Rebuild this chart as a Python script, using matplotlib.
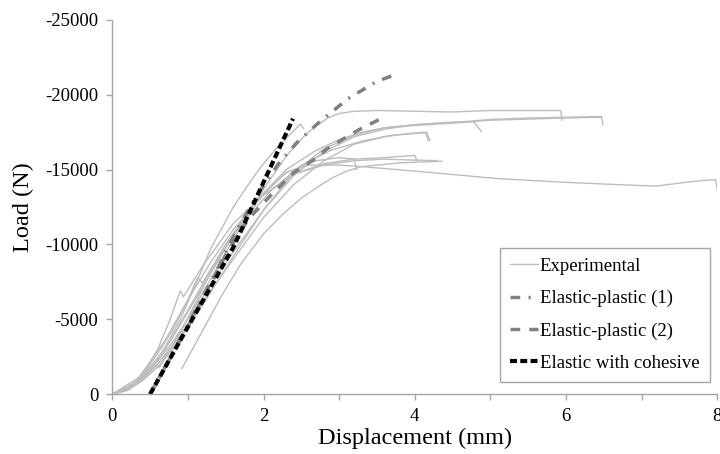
import matplotlib.pyplot as plt

plt.rcParams["font.family"] = ["Liberation Serif", "DejaVu Serif"]
plt.rcParams["lines.scale_dashes"] = False

# -----------------------------
# Experimental curves (x in mm, load in N)
# -----------------------------
exp1_x = [0, 0.15, 0.3, 0.45, 0.6, 0.75, 0.9, 1.1, 1.3, 1.6, 1.8, 1.96, 2.15, 2.31, 2.42, 2.49, 2.53]
exp1_y = [0, -200, -600, -1300, -2300, -3600, -5000, -7300, -9700, -12500, -14000, -15150,
          -16300, -17150, -17700, -18050, -17750]

exp2_x = [0, 0.2, 0.4, 0.6, 0.8, 1.2, 1.6, 2.0, 2.3, 2.55, 2.7, 2.85, 3.0, 3.2, 3.5, 4.0,
          4.5, 5.0, 5.5, 5.93, 5.95]
exp2_y = [0, -300, -1000, -2000, -3300, -6800, -10300, -13700, -15900, -17300, -17950, -18450,
          -18750, -18900, -18950, -18900, -18850, -18950, -18950, -18950, -18300]

exp3_x = [0, 0.2, 0.4, 0.6, 0.8, 1.2, 1.6, 2.0, 2.4, 2.8, 3.2, 3.6, 4.0, 4.5, 5.0, 5.5,
          6.0, 6.47, 6.49]
exp3_y = [0, -250, -900, -1800, -3000, -6000, -9200, -12300, -14800, -16400, -17300, -17800,
          -18000, -18150, -18350, -18450, -18500, -18550, -18000]

exp4_x = [0, 0.2, 0.4, 0.6, 0.8, 1.2, 1.6, 2.0, 2.4, 2.8, 3.2, 3.6, 4.0, 4.4, 4.78, 4.88]
exp4_y = [0, -300, -1100, -2200, -3500, -6500, -9500, -12300, -14600, -16200, -17200, -17700,
          -18000, -18150, -18200, -17550]

exp5_x = [0, 0.2, 0.4, 0.6, 0.8, 1.2, 1.6, 2.0, 2.4, 2.8, 3.2, 3.6, 3.9, 4.14, 4.18]
exp5_y = [0, -250, -1000, -2000, -3200, -6200, -9000, -11800, -14000, -15600, -16700,
          -17200, -17400, -17500, -16950]

exp6_x = [0, 0.15, 0.3, 0.45, 0.6, 0.75, 0.9, 0.94, 1.2, 1.6, 2.0, 2.4, 2.8, 3.2, 3.6,
          4.0, 4.03]
exp6_y = [0, -250, -800, -1700, -3000, -4800, -6900, -6500, -8600, -11400, -13300, -14700,
          -15400, -15700, -15800, -15950, -15600]

exp7_x = [0.92, 1.2, 1.45, 1.7, 2.0, 2.25, 2.5, 2.75, 2.93, 3.1, 3.3, 3.8, 4.36]
exp7_y = [-1700, -4300, -6600, -8700, -10700, -12000, -13100, -13950, -14500, -14900,
          -15200, -15450, -15560]

exp8_x = [0, 0.2, 0.4, 0.6, 0.8, 1.2, 1.6, 2.0, 2.3, 2.6, 3.0, 3.3, 4.0, 5.1, 6.0, 6.9,
          7.2, 7.5, 7.8, 7.98, 8.0]
exp8_y = [0, -350, -1200, -2400, -3800, -7200, -10600, -13400, -14800, -15300, -15300,
          -15200, -14900, -14400, -14150, -13950, -13900, -14100, -14270, -14330, -13700]

exp9_x = [0, 0.2, 0.4, 0.6, 0.8, 1.0, 1.13, 1.19, 1.5, 1.9, 2.3, 2.7, 3.0, 3.2, 3.23]
exp9_y = [0, -350, -1300, -2700, -4300, -6300, -7800, -7400, -10000, -12900, -14800,
          -15600, -15800, -15700, -15000]

exp10_x = [0, 0.3, 0.6, 0.62, 0.9, 1.2, 1.5, 1.9, 2.3, 2.7, 3.0, 3.3, 3.6, 4.0, 4.5, 5.0,
           6.0, 6.47]
exp10_y = [0, -700, -1950, -1750, -4100, -7100, -10000, -12900, -15000, -16300, -17000,
           -17500, -17800, -17950, -18100, -18300, -18450, -18500]

exp11_x = [0, 0.35, 0.7, 1.0, 1.3, 1.6, 2.0, 2.4, 2.8, 3.2, 3.6, 3.9, 4.3]
exp11_y = [0, -1100, -3600, -6300, -8800, -11000, -13300, -14700, -15300, -15600, -15700,
           -15650, -15600]

exp12_x = [0, 0.35, 0.7, 1.0, 1.3, 1.7, 2.1, 2.5, 2.9, 3.3, 3.7, 4.1, 4.16, 4.2]
exp12_y = [0, -900, -3000, -5600, -8300, -11300, -13600, -15300, -16300, -16900, -17300,
           -17450, -17480, -16950]

experimental = [
    (exp1_x, exp1_y), (exp2_x, exp2_y), (exp3_x, exp3_y), (exp4_x, exp4_y),
    (exp5_x, exp5_y), (exp6_x, exp6_y), (exp7_x, exp7_y), (exp8_x, exp8_y),
    (exp9_x, exp9_y), (exp10_x, exp10_y), (exp11_x, exp11_y), (exp12_x, exp12_y),
]

# -----------------------------
# Model curves
# -----------------------------
ep1_x = [0.5, 0.9, 1.37, 1.6, 1.9, 2.2, 2.44, 2.71, 3.12, 3.5, 3.7]
ep1_y = [0, -3700, -8150, -10500, -13200, -15400, -16800, -18050, -19750, -20900, -21270]

ep2_x = [0.5, 1.0, 1.5, 1.8, 2.1, 2.4, 2.66, 2.84, 3.06, 3.28, 3.57]
ep2_y = [0, -4500, -9300, -11700, -13300, -14800, -15650, -16380, -17070, -17710, -18450]

coh_x = [0.5, 0.9, 1.6, 2.05, 2.39]
coh_y = [0, -3600, -9800, -14700, -18400]

# -----------------------------
# Plot
# -----------------------------
fig = plt.figure(figsize=(7.2, 4.54), dpi=100)
ax = fig.add_axes([0.156, 0.132, 0.84, 0.824])

for i, (xs, ys) in enumerate(experimental):
    ax.plot(xs, ys, color="#bdbdbd", linewidth=1.0,
            label="Experimental" if i == 0 else None)

ax.plot(ep1_x, ep1_y, color="#808080", linewidth=2.5,
        dashes=(7, 6, 1.5, 6), label="Elastic-plastic (1)")
ax.plot(ep2_x, ep2_y, color="#808080", linewidth=2.5,
        dashes=(7, 6.5), label="Elastic-plastic (2)")
ax.plot(coh_x, coh_y, color="black", linewidth=3.0,
        dashes=(5, 2.4), label="Elastic with cohesive")

ax.set_xlim(0, 8)
ax.set_ylim(0, -25000)
ax.set_xticks(range(0, 9))
ax.set_xticklabels([str(v) if v % 2 == 0 else "" for v in range(0, 9)])
ax.set_yticks(range(0, -25001, -5000))
ax.set_yticklabels([str(v) for v in range(0, -25001, -5000)])

for side in ["top", "right"]:
    ax.spines[side].set_visible(False)
for side in ["left", "bottom"]:
    ax.spines[side].set_color("#a6a6a6")
    ax.spines[side].set_linewidth(1.0)

ax.tick_params(axis="both", colors="#a6a6a6", length=4, width=1,
               labelsize=13.5, labelcolor="black", pad=6)

ax.set_xlabel("Displacement (mm)", fontsize=17.5, labelpad=2)
ax.set_ylabel("Load (N)", fontsize=17.5, labelpad=8)

leg = ax.legend(loc="lower right", bbox_to_anchor=(0.988, 0.032), fontsize=13.5,
                handlelength=1.5, handletextpad=0.1, labelspacing=0.8,
                fancybox=False, framealpha=1, borderpad=0.55, borderaxespad=0)
leg.get_frame().set_edgecolor("#a6a6a6")
leg.get_frame().set_linewidth(1.0)

fig.savefig("out.png", dpi=100)
